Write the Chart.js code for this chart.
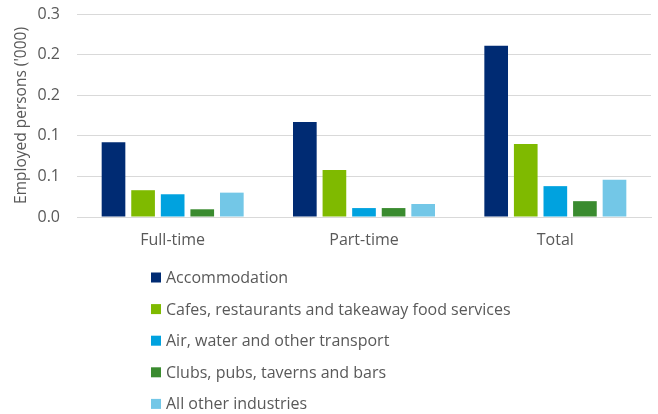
<!DOCTYPE html>
<html>
<head>
<meta charset="utf-8">
<script src="https://cdn.jsdelivr.net/npm/chart.js@4/dist/chart.umd.min.js"></script>
<style>
html,body{margin:0;padding:0;background:#fff;}
#wrap{width:658px;height:414px;position:relative;}
</style>
</head>
<body>
<div id="wrap"><canvas id="c" width="658" height="414"></canvas></div>
<script>
const categories = ['Full-time', 'Part-time', 'Total'];
const seriesNames = [
  'Accommodation',
  'Cafes, restaurants and takeaway food services',
  'Air, water and other transport',
  'Clubs, pubs, taverns and bars',
  'All other industries'
];
const accommodation = [0.092, 0.117, 0.211];
const cafes = [0.033, 0.058, 0.090];
const transport = [0.028, 0.011, 0.038];
const clubs = [0.0095, 0.011, 0.0195];
const otherIndustries = [0.030, 0.016, 0.046];
const yTickLabels = ['0.0', '0.1', '0.1', '0.2', '0.2', '0.3'];
const colors = ['#002B73', '#7FBA00', '#00A2DF', '#3A8B2F', '#73C7E7'];

const seriesValues = [accommodation, cafes, transport, clubs, otherIndustries];
const FONT = '"Open Sans", "Noto Sans", sans-serif';
const TEXT = '#595959';

const legendPlugin = {
  id: 'vlegend',
  afterDraw(chart) {
    const ctx = chart.ctx;
    ctx.save();
    ctx.font = '16px ' + FONT;
    ctx.textBaseline = 'middle';
    ctx.textAlign = 'left';
    chart.data.datasets.forEach((ds, i) => {
      const y = 277.5 + i * 31.6;
      ctx.fillStyle = ds.backgroundColor;
      ctx.fillRect(151, y - 5, 10, 10);
      ctx.fillStyle = TEXT;
      ctx.fillText(ds.label, 166, y + 1);
    });
    ctx.restore();
  }
};

new Chart(document.getElementById('c'), {
  type: 'bar',
  data: {
    labels: categories,
    datasets: seriesNames.map((n, i) => ({
      label: n,
      data: seriesValues[i],
      backgroundColor: colors[i],
      borderWidth: 0,
      categoryPercentage: 0.773,
      barPercentage: 0.8
    }))
  },
  options: {
    responsive: false,
    animation: false,
    layout: { padding: { left: 0, right: 7, top: 14, bottom: 157 } },
    plugins: { legend: { display: false }, tooltip: { enabled: false } },
    scales: {
      x: {
        grid: { display: false, drawTicks: false },
        border: { color: '#D9D9D9', width: 1 },
        ticks: { color: TEXT, font: { family: FONT, size: 16 }, padding: 14 },
        afterFit(s) { s.height = 40; s.paddingLeft = 0; s.paddingRight = 0; }
      },
      y: {
        min: 0, max: 0.25,
        ticks: {
          stepSize: 0.05,
          color: TEXT,
          font: { family: FONT, size: 16 },
          padding: 17,
          callback: (v, i) => yTickLabels[i]
        },
        grid: { color: '#D9D9D9', drawTicks: false },
        border: { display: false },
        title: {
          display: true,
          text: "Employed persons ('000)",
          color: TEXT,
          font: { family: FONT, size: 15.5 },
          padding: { top: 12, bottom: 0 }
        },
        afterFit(s) { s.width = 77; s.paddingTop = 0; s.paddingBottom = 0; }
      }
    }
  },
  plugins: [legendPlugin]
});
</script>
</body>
</html>
